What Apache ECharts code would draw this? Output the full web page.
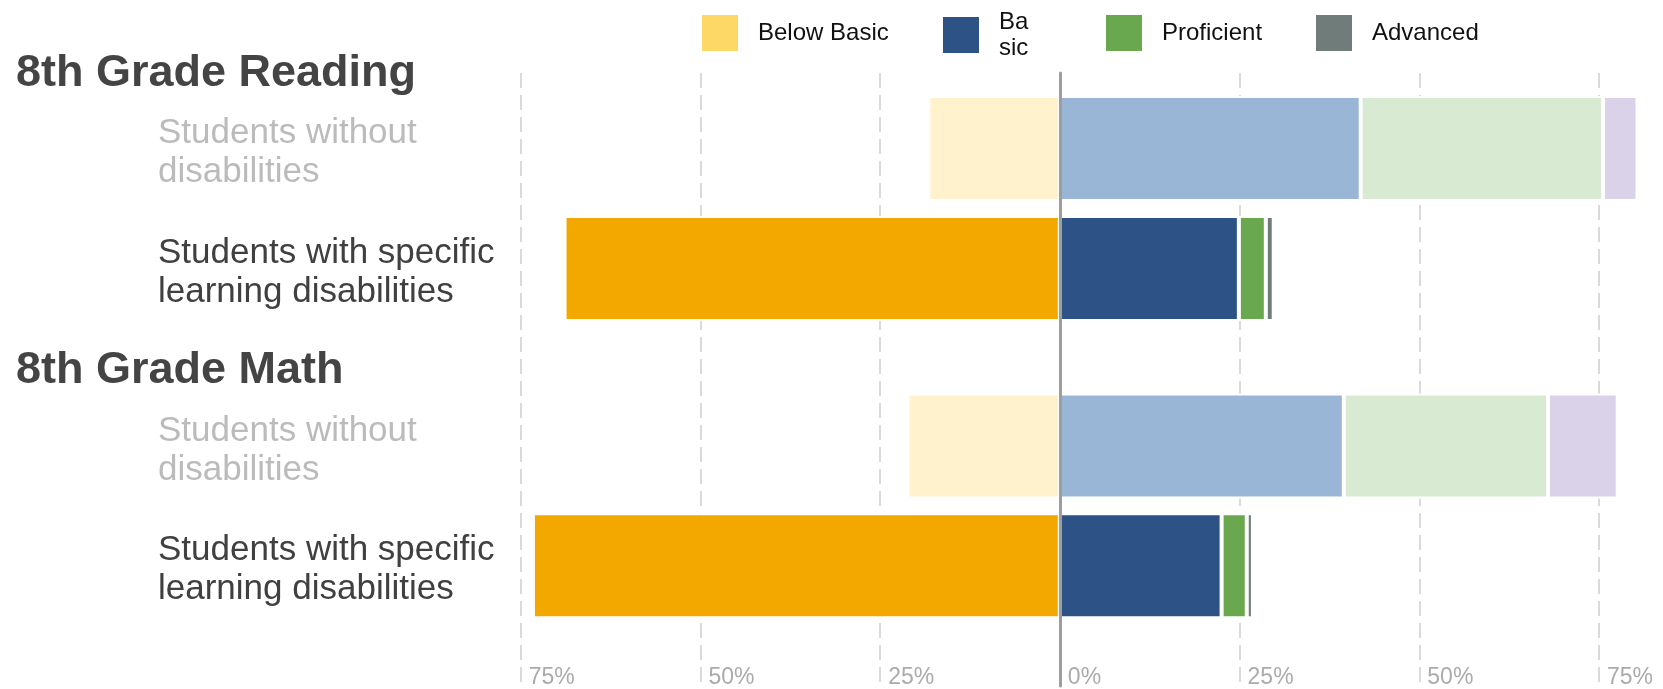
<!DOCTYPE html>
<html><head><meta charset="utf-8">
<script src="https://cdn.jsdelivr.net/npm/echarts@6/dist/echarts.min.js"></script>
<style>html,body{margin:0;padding:0;background:#fff}#c{width:1663px;height:689px}</style>
</head><body><div id="c"></div>
<script>
// ---- data ----
const groups = ['8th Grade Reading', '8th Grade Math'];
const categories = ['Students without\ndisabilities', 'Students with specific\nlearning disabilities'];
const levels = ['Below Basic', 'Basic', 'Proficient', 'Advanced'];
const legendLabels = ['Below Basic', 'Ba\nsic', 'Proficient', 'Advanced'];
const readingBelowBasic = [18.3, 68.9];
const readingBasic = [41.85, 24.9];
const readingProficient = [33.7, 3.75];
const readingAdvanced = [4.8, 1.1];
const mathBelowBasic = [21.2, 73.3];
const mathBasic = [39.5, 22.5];
const mathProficient = [28.4, 3.5];
const mathAdvanced = [9.7, 0.85];

// ---- styles ----
const legendColors = ['#FED866', '#2D5286', '#6AA84F', '#6F7C7A'];
const strongColors = ['#F3A800', '#2D5286', '#6AA84F', '#6F7C7A'];
const lightColors = ['#FFF2CC', '#9AB6D6', '#D9EAD3', '#D9D2E9'];
const labelColors = ['#BBBBBB', '#404040'];

const X_MIN = -75, X_MAX = 83.9, GRID_LEFT = 520.7;

const panels = [
  { data: [readingBelowBasic.map(v => -v), readingBasic, readingProficient, readingAdvanced], top: 88.5, height: 240 },
  { data: [mathBelowBasic.map(v => -v), mathBasic, mathProficient, mathAdvanced], top: 386, height: 239.5 }
];

const grid = [{ left: GRID_LEFT, right: 0, top: 73, bottom: 0 }];
const xAxis = [{
  gridIndex: 0, type: 'value', min: X_MIN, max: X_MAX, interval: 25,
  axisLine: { show: false }, axisTick: { show: false },
  splitLine: { show: true, showMinLine: true, showMaxLine: false,
    lineStyle: { color: '#DADADA', width: 2, type: [15, 7] } },
  axisLabel: { inside: true, margin: 0, align: 'left',
    showMaxLabel: false, showMinLabel: true,
    formatter: v => '{t|' + Math.abs(v) + '%}',
    rich: { t: { fontFamily: 'Liberation Sans', fontSize: 23, lineHeight: 17, color: '#ABABAB', padding: [0, 0, 0, 8] } } }
}];
const yAxis = [{
  gridIndex: 0, type: 'value', z: 10,
  axisLine: { show: true, onZero: true, lineStyle: { color: '#9E9E9E', width: 3 } },
  axisLabel: { show: false }, axisTick: { show: false }, splitLine: { show: false }
}];
const series = [];

const labelRich = { s: { fontSize: 8, lineHeight: 9 } };
labelColors.forEach((c, i) => {
  labelRich['c' + i] = { color: c, fontFamily: 'Liberation Sans', fontSize: 35, lineHeight: 39 };
});

panels.forEach((p, gi) => {
  const g = gi + 1;
  grid.push({ left: GRID_LEFT, right: 0, top: p.top, height: p.height });
  xAxis.push({ gridIndex: g, type: 'value', min: X_MIN, max: X_MAX, show: false, splitLine: { show: false } });
  yAxis.push({
    gridIndex: g, type: 'category', inverse: true, data: categories,
    axisLine: { show: false }, axisTick: { show: false },
    axisLabel: { align: 'left', margin: GRID_LEFT - 158,
      formatter: (val, idx) => '{s|\u200b}\n' + val.split('\n').map(l => '{c' + idx + '|' + l + '}').join('\n'),
      rich: labelRich }
  });
  levels.forEach((name, li) => {
    series.push({
      name, type: 'bar', stack: 'g' + g, xAxisIndex: g, yAxisIndex: g,
      barWidth: 105,
      itemStyle: { color: legendColors[li], borderColor: '#fff', borderWidth: 2 },
      emphasis: { disabled: true },
      data: p.data[li].map((v, ci) => ({ value: v,
        itemStyle: { color: ci === 0 ? lightColors[li] : strongColors[li] } }))
    });
  });
});

const legendLefts = [700, 941, 1104, 1314];
const legend = levels.map((name, i) => ({
  data: [name], left: legendLefts[i], top: i === 1 ? 8 : 13, padding: 0,
  icon: 'rect', itemWidth: 38, itemHeight: 38, selectedMode: false,
  formatter: () => legendLabels[i],
  textStyle: { fontFamily: 'Liberation Sans', fontSize: 24, lineHeight: 26, color: '#111', padding: [2, 0, 0, 14] }
}));

const graphic = [
  { type: 'text', x: 16, y: 74, style: { text: groups[0], font: 'bold 45px "Liberation Sans"', fill: '#444', verticalAlign: 'middle' } },
  { type: 'text', x: 16, y: 371, style: { text: groups[1], font: 'bold 45px "Liberation Sans"', fill: '#444', verticalAlign: 'middle' } }
];

const chart = echarts.init(document.getElementById('c'), null, { renderer: 'canvas' });
chart.setOption({ animation: false, backgroundColor: '#fff', grid, xAxis, yAxis, series, legend, graphic });
</script></body></html>
